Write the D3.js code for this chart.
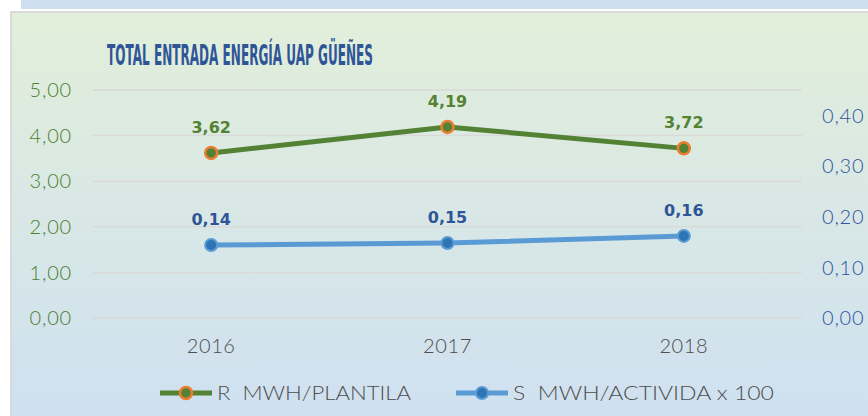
<!DOCTYPE html>
<html>
<head>
<meta charset="utf-8">
<script src="https://cdn.jsdelivr.net/npm/d3@7"></script>
<style>
  html, body { margin: 0; padding: 0; background: #fff; }
  svg { display: block; }
</style>
</head>
<body>
<div id="chart"></div>
<script>
const years = ['2016', '2017', '2018']
const plantilla = [3.62, 4.19, 3.72]
const actividad = [0.144, 0.148, 0.162]
const leftTicks = [0, 1, 2, 3, 4, 5]
const rightTicks = [0, 0.1, 0.2, 0.3, 0.4]
const seriesNames = ['R  MWH/PLANTILA', 'S  MWH/ACTIVIDA x 100']
const title = 'TOTAL ENTRADA ENERGÍA UAP GÜEÑES'

const width = 868
const height = 416
const font = '"DejaVu Sans", sans-serif'
const thin = 'Lato, "DejaVu Sans", sans-serif'
const comma = v => d3.format('.2f')(v).replace('.', ',')

const green = '#548235'
const orange = '#ed7d31'
const blue = '#5b9bd5'
const darkBlue = '#2f5597'
const grey = '#4d4d4d'

const svg = d3
  .select('#chart')
  .append('svg')
  .attr('width', width)
  .attr('height', height)
  .attr('font-family', font)

const defs = svg.append('defs')
const grad = defs
  .append('linearGradient')
  .attr('id', 'bg')
  .attr('x1', 0)
  .attr('y1', 0)
  .attr('x2', 0)
  .attr('y2', 1)
grad.append('stop').attr('offset', '0%').attr('stop-color', '#e2efda')
grad.append('stop').attr('offset', '100%').attr('stop-color', '#cfe0f1')

// strip of the panel above
svg.append('rect').attr('x', 21).attr('y', 0).attr('width', width - 21).attr('height', 9).attr('fill', '#cddff0')

// chart panel
svg.append('rect').attr('x', 10).attr('y', 11).attr('width', width - 10).attr('height', height - 11).attr('fill', '#d9d9d9')
svg.append('rect').attr('x', 12).attr('y', 13).attr('width', width - 12).attr('height', height - 13).attr('fill', 'url(#bg)')

const x = d3.scaleBand().domain(years).range([93, 802]).paddingInner(0).paddingOuter(0)
const cx = d => x(d) + x.bandwidth() / 2
const yL = d3.scaleLinear().domain([0, 5]).range([318, 90])
const yR = d3.scaleLinear().domain([0, 0.45]).range([318, 90])

svg
  .append('g')
  .selectAll('line')
  .data(leftTicks)
  .join('line')
  .attr('x1', 93)
  .attr('x2', 802)
  .attr('y1', d => yL(d))
  .attr('y2', d => yL(d))
  .attr('stroke', '#d9d9d9')
  .attr('stroke-width', 1.5)

svg
  .append('g')
  .attr('fill', '#4a7f2c')
  .attr('font-family', thin)
  .attr('font-weight', 300)
  .attr('font-size', 20)
  .attr('letter-spacing', 0.8)
  .attr('text-anchor', 'end')
  .selectAll('text')
  .data(leftTicks)
  .join('text')
  .attr('x', 72)
  .attr('y', d => yL(d))
  .attr('dy', '0.36em')
  .text(d => comma(d))

svg
  .append('g')
  .attr('fill', '#2f54a0')
  .attr('font-family', thin)
  .attr('font-weight', 300)
  .attr('font-size', 20)
  .attr('letter-spacing', 0.8)
  .attr('text-anchor', 'start')
  .selectAll('text')
  .data(rightTicks)
  .join('text')
  .attr('x', 822)
  .attr('y', d => yR(d))
  .attr('dy', '0.36em')
  .text(d => comma(d))

svg
  .append('g')
  .attr('fill', grey)
  .attr('font-family', thin)
  .attr('font-weight', 300)
  .attr('font-size', 20)
  .attr('letter-spacing', 0.6)
  .attr('text-anchor', 'middle')
  .selectAll('text')
  .data(years)
  .join('text')
  .attr('x', d => cx(d))
  .attr('y', 353)
  .text(d => d)

svg
  .append('text')
  .attr('x', 107)
  .attr('y', 65)
  .attr('fill', darkBlue)
  .attr('font-size', 29)
  .attr('font-weight', 'bold')
  .attr('textLength', 266)
  .attr('lengthAdjust', 'spacingAndGlyphs')
  .text(title)

const series = [
  { values: plantilla, y: yL, line: green, fill: green, ring: orange, ringW: 2.5, label: green },
  { values: actividad, y: yR, line: blue, fill: '#2e75b6', ring: blue, ringW: 2, label: darkBlue }
]

series.forEach(s => {
  const pts = years.map((yr, i) => [cx(yr), s.y(s.values[i]), s.values[i]])
  svg
    .append('path')
    .attr('d', d3.line()(pts))
    .attr('fill', 'none')
    .attr('stroke', s.line)
    .attr('stroke-width', 5)
    .attr('stroke-linejoin', 'round')

  svg
    .append('g')
    .selectAll('circle')
    .data(pts)
    .join('circle')
    .attr('cx', d => d[0])
    .attr('cy', d => d[1])
    .attr('r', 6)
    .attr('fill', s.fill)
    .attr('stroke', s.ring)
    .attr('stroke-width', s.ringW)

  svg
    .append('g')
    .attr('fill', s.label)
    .attr('font-size', 16)
    .attr('font-weight', 'bold')
    .attr('text-anchor', 'middle')
    .selectAll('text')
    .data(pts)
    .join('text')
    .attr('x', d => d[0])
    .attr('y', d => d[1] - 20)
    .text(d => comma(d[2]))
})

// legend
const legend = svg.append('g').attr('font-family', thin).attr('font-weight', 300).attr('font-size', 20).attr('fill', grey)
const legendX = [160, 456]
const legendW = [194, 261]
series.forEach((s, i) => {
  const g = legend.append('g').attr('transform', `translate(${legendX[i]},393)`)
  g.append('line').attr('x1', 0).attr('x2', 52).attr('stroke', s.line).attr('stroke-width', 5)
  g.append('circle').attr('cx', 26).attr('r', 6).attr('fill', s.fill).attr('stroke', s.ring).attr('stroke-width', s.ringW)
  g.append('text')
    .attr('x', 57)
    .attr('dy', '0.36em')
    .attr('textLength', legendW[i])
    .attr('lengthAdjust', 'spacingAndGlyphs')
    .style('white-space', 'pre')
    .text(seriesNames[i])
})
</script>
</body>
</html>
